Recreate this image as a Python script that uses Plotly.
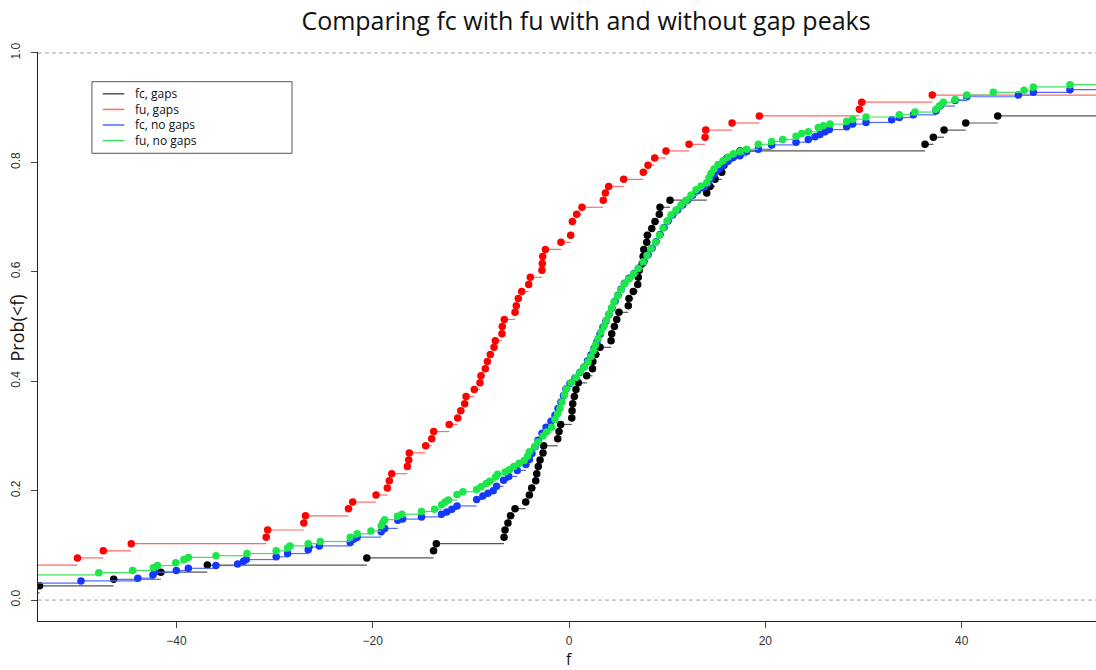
import plotly.graph_objects as go

# ---------------- data ----------------
# fc, gaps (black)
fc_gaps_base = 0.013
fc_gaps_x = [-53.94, -46.39, -41.58, -36.85, -20.60, -13.80, -13.52, -6.62, -6.52, -6.22,
             -5.96, -5.50, -4.41, -4.04, -3.80, -3.39, -3.29, -3.13, -2.95, -2.65,
             -2.59, -1.15, -1.02, -0.85, 0.28, 0.31, 0.38, 0.54, 0.71, 0.95,
             1.80, 2.39, 2.43, 2.72, 3.16, 4.28, 4.35, 4.62, 4.86, 5.09,
             6.04, 6.11, 6.55, 7.00, 7.06, 7.16, 7.47, 7.55, 7.62, 7.92,
             7.98, 8.43, 8.76, 9.20, 9.27, 10.29, 14.03, 14.37, 14.88, 15.56,
             15.79, 16.10, 17.42, 36.27, 37.12, 38.21, 40.42, 43.68]
fc_gaps_y = [0.026, 0.038, 0.051, 0.064, 0.077, 0.090, 0.103, 0.115, 0.128, 0.141,
             0.154, 0.167, 0.179, 0.192, 0.205, 0.218, 0.231, 0.244, 0.256, 0.269,
             0.282, 0.295, 0.308, 0.321, 0.333, 0.346, 0.359, 0.372, 0.385, 0.397,
             0.410, 0.423, 0.436, 0.449, 0.462, 0.474, 0.487, 0.500, 0.513, 0.526,
             0.538, 0.551, 0.564, 0.577, 0.590, 0.603, 0.615, 0.628, 0.641, 0.654,
             0.667, 0.679, 0.692, 0.705, 0.718, 0.731, 0.744, 0.756, 0.769, 0.782,
             0.795, 0.808, 0.821, 0.833, 0.846, 0.859, 0.872, 0.885]

# fu, gaps (red)
fu_gaps_base = 0.064
fu_gaps_x = [-50.08, -47.45, -44.60, -30.85, -30.70, -27.02, -26.85, -22.47, -22.04, -19.66,
             -18.51, -18.31, -18.06, -16.47, -16.33, -16.27, -14.60, -13.99, -13.79, -12.20,
             -11.34, -11.03, -10.63, -10.49, -9.65, -9.07, -8.97, -8.53, -8.32, -8.02,
             -7.64, -7.51, -6.83, -6.80, -6.59, -5.50, -5.37, -5.17, -4.82, -4.11,
             -3.94, -2.76, -2.72, -2.68, -2.41, -0.82, 0.17, 0.34, 0.78, 1.32,
             3.49, 3.70, 4.04, 5.57, 7.57, 8.05, 8.73, 9.88, 12.23, 13.86,
             13.93, 16.61, 19.39, 29.58, 29.82, 37.01]
fu_gaps_y = [0.077, 0.090, 0.103, 0.115, 0.128, 0.141, 0.154, 0.167, 0.179, 0.192,
             0.205, 0.218, 0.231, 0.244, 0.256, 0.269, 0.282, 0.295, 0.308, 0.321,
             0.333, 0.346, 0.359, 0.372, 0.385, 0.397, 0.410, 0.423, 0.436, 0.449,
             0.462, 0.474, 0.487, 0.500, 0.513, 0.526, 0.538, 0.551, 0.564, 0.577,
             0.590, 0.603, 0.615, 0.628, 0.641, 0.654, 0.667, 0.692, 0.705, 0.718,
             0.731, 0.744, 0.756, 0.769, 0.782, 0.795, 0.808, 0.821, 0.833, 0.846,
             0.859, 0.872, 0.885, 0.897, 0.910, 0.923]

# fc, no gaps (blue)
fc_nogaps_base = 0.031
fc_nogaps_x = [-49.72, -43.93, -42.39, -42.21, -40.01, -38.78, -35.97, -33.76, -33.16, -32.88,
               -29.83, -28.67, -26.57, -26.49, -25.44, -22.29, -21.94, -21.59, -19.13, -18.78,
               -17.44, -16.95, -15.03, -12.99, -12.46, -11.94, -11.41, -9.41, -8.78, -8.25,
               -7.72, -7.38, -6.67, -6.14, -5.27, -4.39, -4.04, -3.77, -3.46, -3.16,
               -2.75, -2.34, -1.83, -1.43, -1.12, -0.82, -0.56, -0.31, 0.10, 0.61,
               1.12, 1.53, 1.88, 2.24, 2.55, 2.85, 3.16, 3.46, 3.77, 4.08,
               4.38, 4.69, 4.99, 5.30, 5.65, 6.11, 6.62, 7.13, 7.64, 8.05,
               8.46, 8.86, 9.27, 9.68, 10.09, 10.54, 11.05, 11.56, 12.07, 12.58,
               13.09, 13.65, 14.16, 14.47, 14.77, 15.18, 15.69, 16.20, 16.74, 17.42,
               18.10, 19.29, 20.65, 23.13, 24.38, 25.06, 25.57, 26.08, 26.52, 28.29,
               28.90, 30.26, 32.88, 33.65, 35.08, 37.39, 37.80, 39.33, 40.52, 45.78,
               47.31, 51.04]
fc_nogaps_y = [0.035, 0.040, 0.046, 0.051, 0.054, 0.058, 0.063, 0.066, 0.071, 0.074,
               0.079, 0.085, 0.092, 0.097, 0.099, 0.105, 0.111, 0.115, 0.125, 0.131,
               0.146, 0.148, 0.152, 0.157, 0.161, 0.166, 0.172, 0.184, 0.190, 0.195,
               0.200, 0.208, 0.219, 0.226, 0.237, 0.248, 0.257, 0.268, 0.280, 0.292,
               0.305, 0.316, 0.327, 0.338, 0.350, 0.362, 0.374, 0.386, 0.396, 0.406,
               0.416, 0.426, 0.437, 0.448, 0.460, 0.472, 0.486, 0.499, 0.510, 0.522,
               0.534, 0.546, 0.557, 0.568, 0.579, 0.588, 0.597, 0.607, 0.619, 0.631,
               0.643, 0.655, 0.668, 0.681, 0.693, 0.704, 0.713, 0.722, 0.731, 0.740,
               0.748, 0.754, 0.762, 0.770, 0.778, 0.786, 0.795, 0.802, 0.809, 0.812,
               0.820, 0.824, 0.832, 0.837, 0.842, 0.847, 0.851, 0.856, 0.860, 0.865,
               0.870, 0.873, 0.878, 0.882, 0.887, 0.894, 0.903, 0.913, 0.920, 0.923,
               0.928, 0.933]

# fu, no gaps (green)
fu_nogaps_base = 0.046
fu_nogaps_x = [-47.90, -44.46, -42.35, -41.93, -40.07, -39.23, -38.78, -35.97, -32.81, -29.83,
               -28.67, -28.43, -26.57, -25.34, -22.29, -21.59, -20.18, -19.13, -18.95, -18.78,
               -17.48, -17.02, -15.03, -13.69, -12.99, -12.63, -12.29, -11.41, -10.81, -9.41,
               -8.96, -8.43, -8.08, -7.48, -7.27, -6.50, -6.08, -5.62, -5.09, -4.57,
               -4.22, -4.04, -3.51, -3.17, -2.65, -2.29, -1.76, -1.43, -1.17, -0.92,
               -0.71, -0.46, -0.25, 0.20, 0.71, 1.12, 1.53, 1.94, 2.24, 2.50,
               2.70, 2.95, 3.26, 3.57, 3.82, 4.08, 4.33, 4.58, 4.94, 5.30,
               5.65, 6.11, 6.57, 7.03, 7.54, 7.95, 8.35, 8.81, 9.22, 9.58,
               9.98, 10.39, 10.90, 11.41, 11.92, 12.43, 12.94, 13.45, 14.03, 14.26,
               14.47, 14.77, 15.18, 15.69, 16.20, 16.74, 17.42, 18.10, 19.29, 20.65,
               21.77, 23.13, 23.71, 24.38, 25.40, 25.91, 26.59, 28.29, 28.90, 30.26,
               33.65, 35.25, 37.39, 37.73, 38.14, 39.33, 40.52, 43.23, 46.36, 47.31,
               51.04]
fu_nogaps_y = [0.050, 0.054, 0.059, 0.063, 0.068, 0.074, 0.078, 0.081, 0.085, 0.090,
               0.095, 0.099, 0.103, 0.107, 0.115, 0.121, 0.126, 0.136, 0.142, 0.147,
               0.153, 0.157, 0.162, 0.166, 0.174, 0.179, 0.183, 0.193, 0.198, 0.202,
               0.207, 0.213, 0.217, 0.225, 0.230, 0.234, 0.238, 0.244, 0.250, 0.255,
               0.263, 0.271, 0.280, 0.289, 0.300, 0.307, 0.316, 0.330, 0.340, 0.350,
               0.362, 0.375, 0.386, 0.397, 0.407, 0.417, 0.426, 0.435, 0.445, 0.456,
               0.466, 0.478, 0.490, 0.501, 0.512, 0.523, 0.534, 0.545, 0.556, 0.567,
               0.578, 0.587, 0.596, 0.606, 0.618, 0.630, 0.642, 0.654, 0.667, 0.680,
               0.693, 0.704, 0.713, 0.722, 0.731, 0.740, 0.750, 0.757, 0.763, 0.772,
               0.780, 0.788, 0.796, 0.803, 0.810, 0.816, 0.820, 0.824, 0.833, 0.838,
               0.842, 0.848, 0.853, 0.856, 0.864, 0.867, 0.870, 0.875, 0.879, 0.883,
               0.887, 0.892, 0.897, 0.903, 0.910, 0.915, 0.923, 0.928, 0.932, 0.938,
               0.942]

series = [
    ("fc, gaps", fc_gaps_x, fc_gaps_y, fc_gaps_base, "#000000", "#555555"),
    ("fu, gaps", fu_gaps_x, fu_gaps_y, fu_gaps_base, "#ff0000", "#ff6a6a"),
    ("fc, no gaps", fc_nogaps_x, fc_nogaps_y, fc_nogaps_base, "#1438ff", "#4f6cff"),
    ("fu, no gaps", fu_nogaps_x, fu_nogaps_y, fu_nogaps_base, "#1de64a", "#3fe05f"),
]

X_LEFT, X_RIGHT = -54.10, 53.69
FAR_L, FAR_R = -80, 80

fig = go.Figure()
for name, xs, ys, base, dot_col, line_col in series:
    sx, sy = [], []
    prev_x, prev_y = FAR_L, base
    for x, y in zip(xs, ys):
        sx += [prev_x, x, None]
        sy += [prev_y, prev_y, None]
        prev_x, prev_y = x, y
    sx += [prev_x, FAR_R, None]
    sy += [prev_y, prev_y, None]
    fig.add_trace(go.Scatter(x=sx, y=sy, mode="lines", line=dict(color=line_col, width=1.2),
                             hoverinfo="skip", showlegend=False))
    fig.add_trace(go.Scatter(x=xs, y=ys, mode="markers", name=name,
                             marker=dict(color=dot_col, size=7.5, line=dict(width=0)),
                             showlegend=False))

# dashed reference lines at 0 and 1
for yv in (0, 1):
    fig.add_shape(type="line", xref="paper", yref="y", x0=0, x1=1, y0=yv, y1=yv,
                  line=dict(color="#a0a0a0", width=1, dash="4px,3px"), layer="below")

# manual legend (R style box): one multi-line text block, one line sample per row
fig.add_shape(type="rect", xref="paper", yref="paper", x0=0.0510, x1=0.2401, y0=0.822, y1=0.9478,
              line=dict(color="#555555", width=1), fillcolor="rgba(0,0,0,0)")
leg_rows = [0.9265, 0.8991, 0.8717, 0.8443]
for (name, xs, ys, base, dot_col, line_col), ly in zip(series, leg_rows):
    fig.add_shape(type="line", xref="paper", yref="paper", x0=0.0612, x1=0.0816, y0=ly, y1=ly,
                  line=dict(color=line_col, width=1.5))
fig.add_annotation(xref="paper", yref="paper", x=0.0907, y=0.8854,
                   text="<br>".join(s[0] for s in series), showarrow=False,
                   xanchor="left", yanchor="middle", align="left", borderpad=0,
                   font=dict(family="Open Sans", size=12, color="#111111"))

# axis titles
fig.add_annotation(xref="paper", yref="paper", x=0.5019, y=-0.0668, text="f", showarrow=False,
                   xanchor="center", yanchor="middle", borderpad=0,
                   font=dict(family="Open Sans", size=15.5, color="#111"))
fig.add_annotation(xref="paper", yref="paper", x=-0.0203, y=0.515, text="Prob(<f)", showarrow=False,
                   textangle=-90, xanchor="center", yanchor="middle",
                   font=dict(family="Open Sans", size=18, color="#111"))

fig.update_layout(
    width=1096, height=670,
    margin=dict(l=38, r=0, t=52, b=49),
    paper_bgcolor="white", plot_bgcolor="white",
    title=dict(text="Comparing fc with fu with and without gap peaks", x=0.5347, xanchor="center",
               xref="container", yref="container", y=0.9687, yanchor="middle",
               font=dict(family="Open Sans", size=25, color="#111")),
    showlegend=False,
    xaxis=dict(range=[X_LEFT, X_RIGHT], tickvals=[-40, -20, 0, 20, 40], showgrid=False, zeroline=False,
               showline=True, linecolor="#222", linewidth=1, ticks="outside", ticklen=6, tickcolor="#444",
               tickfont=dict(family="Liberation Sans", size=12, color="#333"), ticklabelstandoff=3),
    yaxis=dict(range=[-0.0383, 1.0018], tickvals=[0, 0.2, 0.4, 0.6, 0.8, 1.0], tickformat=".1f",
               showgrid=False, zeroline=False, showline=True, linecolor="#222", linewidth=1,
               ticks="outside", ticklen=6, tickcolor="#444", tickangle=-90,
               tickfont=dict(family="Liberation Sans", size=12, color="#333"), ticklabelstandoff=6),
)

fig.write_html("out.html")
